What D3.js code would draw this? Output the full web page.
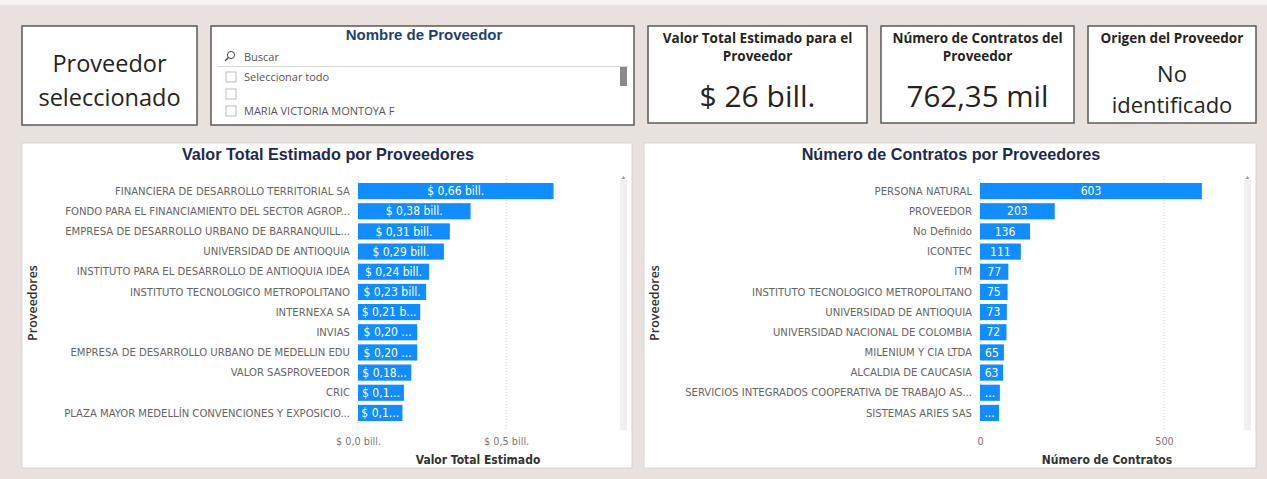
<!DOCTYPE html>
<html>
<head>
<meta charset="utf-8">
<script src="https://cdn.jsdelivr.net/npm/d3@7"></script>
<style>
  body { margin: 0; background: #e9e1dd; }
  svg { display: block; }
</style>
</head>
<body>
<svg width="1267" height="479"></svg>
<script>
// data
const valorProveedores = [
  "FINANCIERA DE DESARROLLO TERRITORIAL SA",
  "FONDO PARA EL FINANCIAMIENTO DEL SECTOR AGROP...",
  "EMPRESA DE DESARROLLO URBANO DE BARRANQUILL...",
  "UNIVERSIDAD DE ANTIOQUIA",
  "INSTITUTO PARA EL DESARROLLO DE ANTIOQUIA IDEA",
  "INSTITUTO TECNOLOGICO METROPOLITANO",
  "INTERNEXA SA",
  "INVIAS",
  "EMPRESA DE DESARROLLO URBANO DE MEDELLIN EDU",
  "VALOR SASPROVEEDOR",
  "CRIC",
  "PLAZA MAYOR MEDELLÍN CONVENCIONES Y EXPOSICIO..."
];
const valorTotal = [0.66, 0.38, 0.31, 0.29, 0.24, 0.23, 0.21, 0.20, 0.20, 0.18, 0.155, 0.15];
const valorTicks = [0, 0.5];

const contratosProveedores = [
  "PERSONA NATURAL",
  "PROVEEDOR",
  "No Definido",
  "ICONTEC",
  "ITM",
  "INSTITUTO TECNOLOGICO METROPOLITANO",
  "UNIVERSIDAD DE ANTIOQUIA",
  "UNIVERSIDAD NACIONAL DE COLOMBIA",
  "MILENIUM Y CIA LTDA",
  "ALCALDIA DE CAUCASIA",
  "SERVICIOS INTEGRADOS COOPERATIVA DE TRABAJO AS...",
  "SISTEMAS ARIES SAS"
];
const numContratos = [603, 203, 136, 111, 77, 75, 73, 72, 65, 63, 54, 52];
const contratosTicks = [0, 500];

const slicerItems = ["Seleccionar todo", "", "MARIA VICTORIA MONTOYA F"];

const svg = d3.select("svg");
const uiFont = "'Open Sans', 'Noto Sans', sans-serif";
const labelFont = "'Liberation Sans Narrow', 'DejaVu Sans Condensed', 'Liberation Sans', sans-serif";
const blue = "#118dff";
const navy = "#1b2a4e";

// white strip on top
svg.append("rect").attr("x", 0).attr("y", 0).attr("width", 1267).attr("height", 5).attr("fill", "#f6f3f1");

// ---- cards ----
function card(x, y, w, h) {
  return svg.append("rect").attr("x", x).attr("y", y).attr("width", w).attr("height", h)
    .attr("fill", "#fff").attr("stroke", "#5a5a5a").attr("stroke-width", 1.5);
}

card(22, 26, 175, 99);
svg.append("text").attr("x", 109.5).attr("y", 72).attr("text-anchor", "middle")
  .style("font-family", uiFont).style("font-size", "23.5px").attr("fill", "#252423").text("Proveedor");
svg.append("text").attr("x", 109.5).attr("y", 106).attr("text-anchor", "middle")
  .style("font-family", uiFont).style("font-size", "23.5px").attr("fill", "#252423").text("seleccionado");

// slicer
card(211, 26, 423, 99);
svg.append("text").attr("x", 424).attr("y", 40).attr("text-anchor", "middle")
  .style("font-family", "'Liberation Sans', Arial, sans-serif").style("font-weight", "bold")
  .style("font-size", "15px").attr("fill", "#1f3f73").text("Nombre de Proveedor");
// search icon
svg.append("circle").attr("cx", 231).attr("cy", 55).attr("r", 3.6).attr("fill", "none").attr("stroke", "#444").attr("stroke-width", 1);
svg.append("line").attr("x1", 228.5).attr("y1", 57.5).attr("x2", 225).attr("y2", 61).attr("stroke", "#444").attr("stroke-width", 1.2);
svg.append("text").attr("x", 244).attr("y", 61).style("font-family", uiFont).style("font-size", "11px")
  .attr("fill", "#555").text("Buscar");
svg.append("line").attr("x1", 218).attr("x2", 628).attr("y1", 66.5).attr("y2", 66.5).attr("stroke", "#d8d8d8").attr("stroke-width", 1.2);
const slicerRows = svg.append("g").selectAll("g").data(slicerItems).enter().append("g")
  .attr("transform", (d, i) => `translate(226,${72 + i * 17})`);
slicerRows.append("rect").attr("width", 10).attr("height", 10).attr("fill", "#fff").attr("stroke", "#bdbdbd");
slicerRows.append("text").attr("x", 18).attr("y", 9).style("font-family", uiFont).style("font-size", "11px")
  .attr("fill", "#555").text(d => d);
svg.append("rect").attr("x", 620).attr("y", 67).attr("width", 7).attr("height", 19).attr("fill", "#8a8a8a");

// KPI cards
function kpi(x, w, titleLines, valueLines, valueY, valueSize) {
  card(x, 26, w, 97);
  titleLines.forEach((t, i) => svg.append("text").attr("x", x + w / 2).attr("y", 43 + i * 18)
    .attr("text-anchor", "middle").style("font-family", uiFont).style("font-weight", "bold")
    .style("font-size", "13.5px").attr("fill", "#252423").text(t));
  valueLines.forEach((t, i) => svg.append("text").attr("x", x + w / 2).attr("y", valueY[i])
    .attr("text-anchor", "middle").style("font-family", uiFont).style("font-size", valueSize)
    .attr("fill", "#252423").text(t));
}
kpi(648, 219, ["Valor Total Estimado para el", "Proveedor"], ["$ 26 bill."], [107], "30px");
kpi(881, 193, ["Número de Contratos del", "Proveedor"], ["762,35 mil"], [107], "29.5px");
kpi(1088, 168, ["Origen del Proveedor"], ["No", "identificado"], [82, 113], "22px");

// ---- bar charts ----
function barChart(opt) {
  const g = svg.append("g");
  g.append("rect").attr("x", opt.px).attr("y", 143).attr("width", opt.pw).attr("height", 325)
    .attr("fill", "#fff").attr("stroke", "#d6d6d6");
  g.append("text").attr("x", opt.px + opt.pw / 2 + 1).attr("y", 160).attr("text-anchor", "middle")
    .style("font-family", "'Liberation Sans', Arial, sans-serif").style("font-weight", "bold")
    .style("font-size", "16.2px").attr("fill", navy).text(opt.title);

  const x = d3.scaleLinear().domain(opt.domain).range([opt.x0, opt.x1]);
  const y = d3.scaleBand().domain(opt.cats).range([181, 423]).paddingInner(0.2).paddingOuter(0.1);

  // gridlines
  g.selectAll(".grid").data(opt.ticks).enter().append("line")
    .attr("x1", d => x(d)).attr("x2", d => x(d)).attr("y1", 176).attr("y2", 430)
    .attr("stroke", "#d0d0d0").attr("stroke-dasharray", "1,2");

  // x axis
  const xAxis = d3.axisBottom(x).tickValues(opt.ticks).tickSize(0).tickFormat(opt.fmt);
  const ax = g.append("g").attr("transform", "translate(0,432)").call(xAxis);
  ax.select(".domain").remove();
  ax.selectAll("text").style("font-family", labelFont).style("font-size", "10.8px").attr("fill", "#777").attr("dy", "0.9em");
  g.append("text").attr("x", opt.axisTitleX).attr("y", 464).attr("text-anchor", "middle")
    .style("font-family", labelFont).style("font-weight", "bold").style("font-size", "12px")
    .attr("fill", "#333").text(opt.xTitle);

  // y axis
  const yAxis = d3.axisLeft(y).tickSize(0).tickPadding(8);
  const ay = g.append("g").attr("transform", `translate(${opt.x0},0)`).call(yAxis);
  ay.select(".domain").remove();
  ay.selectAll("text").style("font-family", labelFont).style("font-size", "11.2px").attr("fill", "#666");
  g.append("text").attr("transform", `translate(${opt.px + 15},303) rotate(-90)`).attr("text-anchor", "middle")
    .style("font-family", uiFont).style("font-weight", 600).style("font-size", "12.5px").attr("fill", "#333").text("Proveedores");

  // bars
  const rows = g.selectAll(".bar").data(opt.values).enter().append("g");
  rows.append("rect").attr("x", x(0)).attr("y", (d, i) => y(opt.cats[i]))
    .attr("width", d => x(d) - x(0)).attr("height", y.bandwidth()).attr("fill", blue);
  rows.append("text").attr("x", d => (x(d) + x(0)) / 2).attr("y", (d, i) => y(opt.cats[i]) + y.bandwidth() / 2)
    .attr("dy", "0.35em").attr("text-anchor", "middle").style("font-family", labelFont)
    .style("font-size", "12px").attr("fill", "#fff")
    .each(function (d) {
      const el = d3.select(this);
      const maxW = x(d) - x(0) - 6.5;
      let txt = opt.label(d);
      el.text(txt);
      if (this.getComputedTextLength() > maxW) {
        while (txt.length > 0) {
          txt = txt.slice(0, -1);
          el.text(txt + "...");
          if (this.getComputedTextLength() <= maxW) break;
        }
        if (txt.length === 0) el.text("...");
      }
    });

  // scrollbar
  g.append("rect").attr("x", opt.sx).attr("y", 180).attr("width", 7).attr("height", 250).attr("fill", "#f0f0f0");
  g.append("path").attr("d", `M${opt.sx + 1.5},179 L${opt.sx + 5.5},179 L${opt.sx + 3.5},176 Z`).attr("fill", "#999");
}

barChart({
  px: 22, pw: 610, title: "Valor Total Estimado por Proveedores",
  cats: valorProveedores, values: valorTotal, ticks: valorTicks,
  domain: [0, 0.8], x0: 358, x1: 595,
  fmt: d => "$ " + d3.format(".1f")(d).replace(".", ",") + " bill.",
  label: d => "$ " + d3.format(".2f")(d).replace(".", ",") + " bill.",
  xTitle: "Valor Total Estimado", axisTitleX: 478, sx: 620
});

barChart({
  px: 644, pw: 612, title: "Número de Contratos por Proveedores",
  cats: contratosProveedores, values: numContratos, ticks: contratosTicks,
  domain: [0, 700], x0: 980, x1: 1237.6,
  fmt: d3.format("d"),
  label: d => String(d),
  xTitle: "Número de Contratos", axisTitleX: 1107, sx: 1244
});
</script>
</body>
</html>
